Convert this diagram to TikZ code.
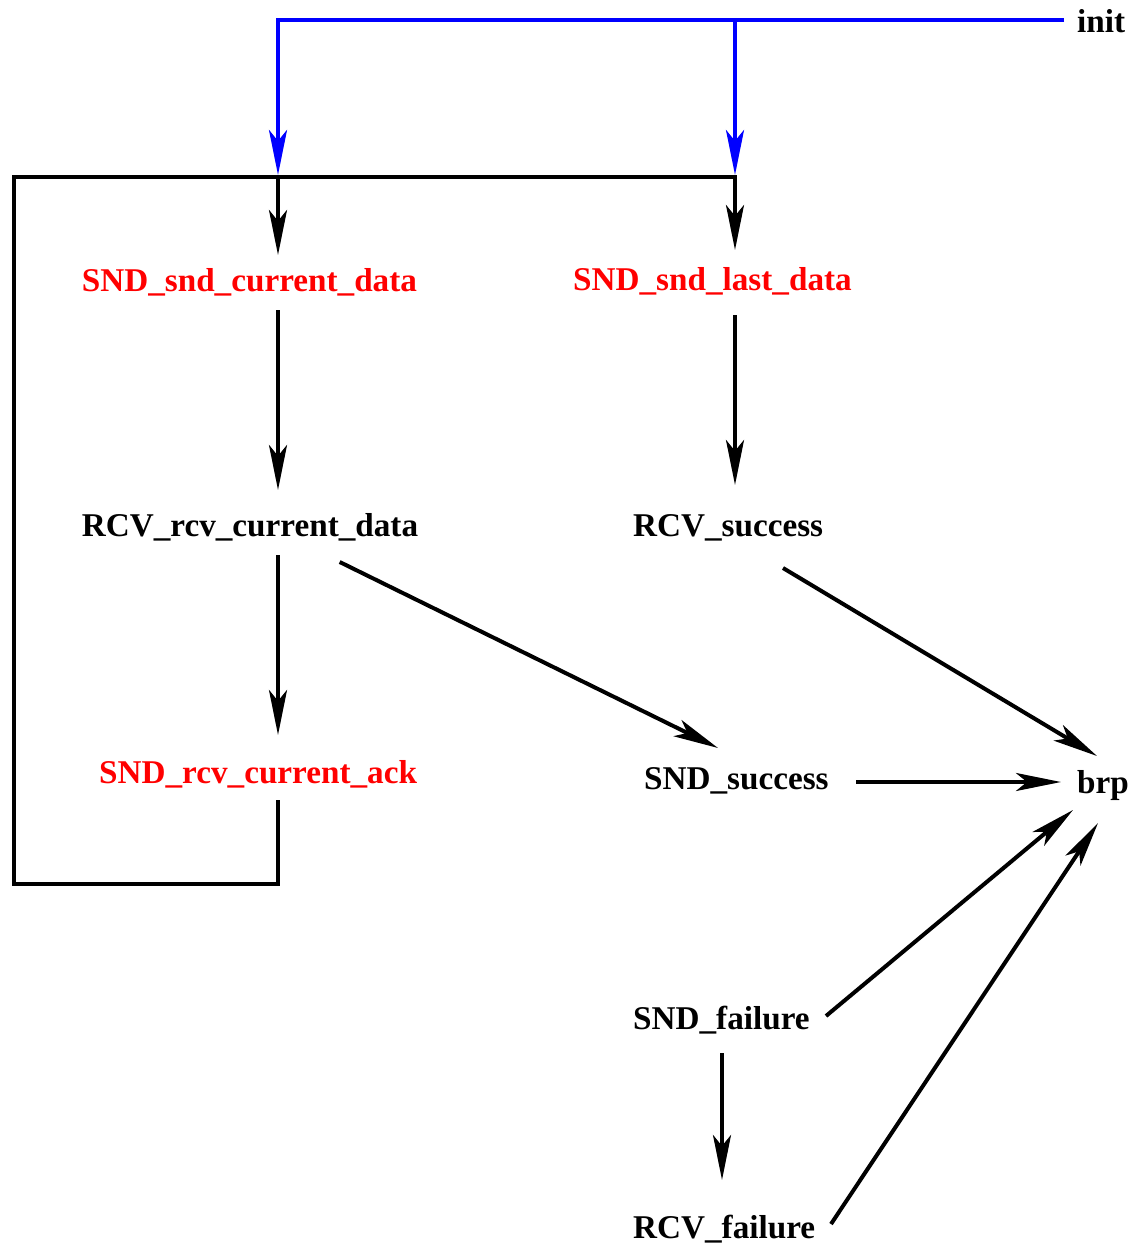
\documentclass[tikz,border=0pt]{standalone}
\usepackage{fontspec}
\setmainfont{Liberation Serif}[BoldFont={Liberation Serif Bold}]
\newfontfamily\statefont{Liberation Serif Bold}
\usetikzlibrary{arrows.meta,calc}

\tikzset{
  lbl/.style={anchor=base west, inner sep=0pt, font=\statefont\fontsize{33.2}{40}\selectfont},
  sndlbl/.style={lbl, text=red},
  wire/.style={line width=4pt, black},
  arr/.style={wire, -{Stealth[length=45pt, width=18pt, inset=11pt]}},
  initarr/.style={arr, blue},
}

\begin{document}
\begin{tikzpicture}[x=1pt, y=-1pt]
  \useasboundingbox (0,0) rectangle (1134,1244);

  % state labels
  \node[lbl]    (init)    at (1077,33)   {init};
  \node[sndlbl] (sndcur)  at (81.7,291)  {SND\_snd\_current\_data};
  \node[sndlbl] (sndlast) at (573,290)   {SND\_snd\_last\_data};
  \node[lbl]    (rcvcur)  at (81.7,536)  {RCV\_rcv\_current\_data};
  \node[lbl]    (rcvsucc) at (633,536)   {RCV\_success};
  \node[sndlbl] (sndack)  at (99,783)    {SND\_rcv\_current\_ack};
  \node[lbl]    (sndsucc) at (644,789)   {SND\_success};
  \node[lbl]    (brp)     at (1077,793)  {brp};
  \node[lbl]    (sndfail) at (633,1029)  {SND\_failure};
  \node[lbl]    (rcvfail) at (633,1238)  {RCV\_failure};

  % junctions on the loop's top rail and its lower-left corner
  \coordinate (jA) at (278,177);
  \coordinate (jB) at (735,177);
  \coordinate (loopBL) at (14,884);
  \coordinate (initTap) at ($(init.base west)+(-13,-13)$);

  % initial transitions
  \draw[initarr] (initTap) -| ($(jA)+(0,-2)$);
  \draw[initarr] (initTap -| jB) -- ($(jB)+(0,-2)$);

  % loop back from the acknowledgement
  \draw[arr] ($(jA |- sndack.base)+(0,17)$) |- (loopBL) |- (jB)
             -- ($(jB |- sndlast.base)+(0,-40)$);
  \draw[arr] (jA) -- ($(jA |- sndcur.base)+(0,-36)$);

  % left column
  \draw[arr] ($(jA |- sndcur.base)+(0,19)$) -- ($(jA |- rcvcur.base)+(0,-46)$);
  \draw[arr] ($(jA |- rcvcur.base)+(0,19)$) -- ($(jA |- sndack.base)+(0,-48)$);

  % right column
  \draw[arr] ($(jB |- sndlast.base)+(0,25)$) -- ($(jB |- rcvsucc.base)+(0,-51)$);

  % towards success
  \draw[arr] ($(rcvcur.base west)+(258,26)$) -- ($(sndsucc.base west)+(74,-41)$);
  \draw[arr] ($(rcvsucc.base west)+(150,32)$) -- ($(brp.base west)+(20,-37)$);
  \draw[arr] ($(sndsucc.base west)+(212,-7)$) -- ($(sndsucc.base west -| brp.base west)+(-16,-7)$);

  % failures
  \draw[arr] ($(sndfail.base west)+(89,24)$) -- ($(rcvfail.base west)+(89,-58)$);
  \draw[arr] ($(sndfail.base west)+(193,-13)$) -- ($(brp.base west)+(-4,17)$);
  \draw[arr] ($(rcvfail.base west)+(198,-14)$) -- ($(brp.base west)+(21,30)$);
\end{tikzpicture}
\end{document}
